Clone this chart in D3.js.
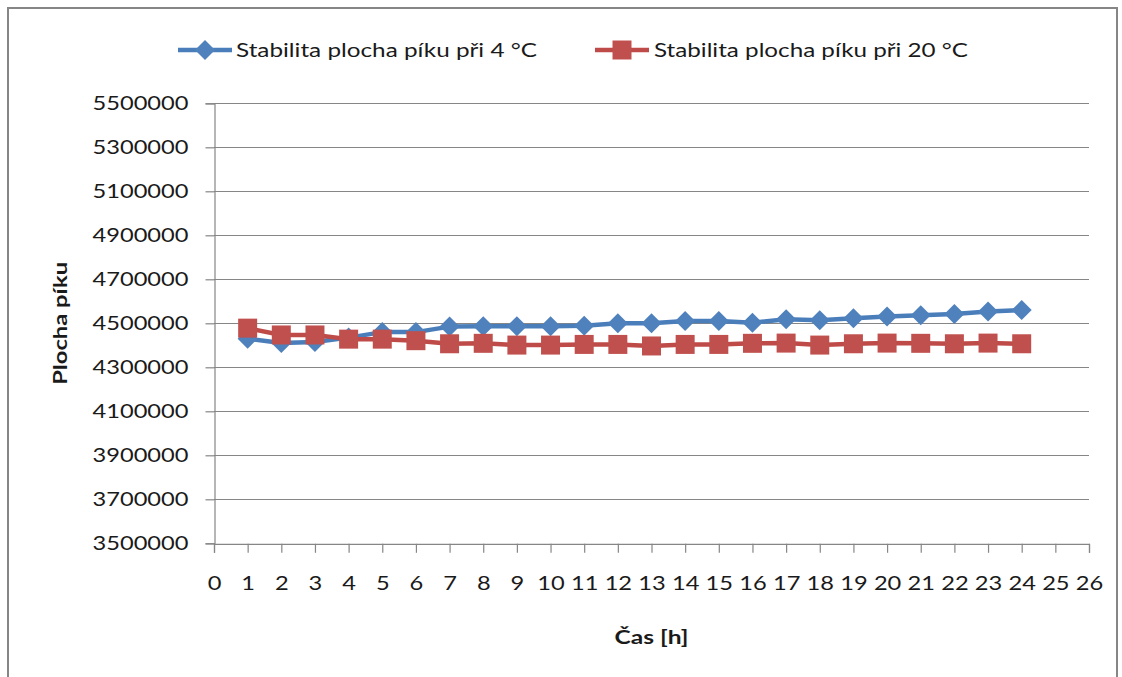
<!DOCTYPE html>
<html>
<head>
<meta charset="utf-8">
<script src="https://cdn.jsdelivr.net/npm/d3@7"></script>
<style>
  html, body { margin: 0; padding: 0; background: #fff; }
  svg { display: block; }
  text { font-family: Lato, "Open Sans", sans-serif; fill: #1a1a1a; }
</style>
</head>
<body>
<svg id="chart" width="1122" height="677"></svg>
<script>
// Sample time points (hours)
const hours = [1,2,3,4,5,6,7,8,9,10,11,12,13,14,15,16,17,18,19,20,21,22,23,24];
// Peak area, stored at 4 °C
const area4 = [4430000, 4410000, 4415000, 4435000, 4460000, 4460000, 4485000, 4487000,
               4487000, 4487000, 4489000, 4500000, 4500000, 4510000, 4510000, 4503000,
               4518000, 4514000, 4523000, 4531000, 4537000, 4542000, 4554000, 4560000];
// Peak area, stored at 20 °C
const area20 = [4478000, 4447000, 4447000, 4428000, 4428000, 4421000, 4407000, 4409000,
                4401000, 4401000, 4404000, 4404000, 4397000, 4404000, 4404000, 4409000,
                4410000, 4401000, 4407000, 4410000, 4409000, 4407000, 4410000, 4407000];
const seriesNames = ["Stabilita plocha píku při 4 °C", "Stabilita plocha píku při 20 °C"];
const xTicks = d3.range(0, 27);
const yTicks = d3.range(3500000, 5500001, 200000);
const xTitle = "Čas [h]";
const yTitle = "Plocha píku";

const svg = d3.select("#chart");
const fontSize = 18.5;

// outer chart frame
svg.append("rect")
  .attr("x", 8).attr("y", 8).attr("width", 1109).attr("height", 690)
  .attr("fill", "#fff").attr("stroke", "#868686").attr("stroke-width", 2);

const plot = { left: 214, right: 1089, top: 103.3, bottom: 543.3 };

const x = d3.scaleLinear().domain([0, 26]).range([plot.left, plot.right]);
const y = d3.scaleLinear().domain([3500000, 5500000]).range([plot.bottom, plot.top]);

// horizontal gridlines
svg.append("g")
  .selectAll("line")
  .data(yTicks.filter(v => v > 3500000))
  .join("line")
  .attr("x1", plot.left).attr("x2", plot.right)
  .attr("y1", d => Math.round(y(d)) + 0.5).attr("y2", d => Math.round(y(d)) + 0.5)
  .attr("stroke", "#868686").attr("stroke-width", 1.2);

// horizontal stretch applied to tick labels
const probe = svg.append("text").attr("font-size", fontSize).text("5500000");
const stretch = 96 / probe.node().getComputedTextLength();
probe.remove();

function stretchText(sel) {
  sel.each(function () {
    const n = this;
    const w = n.getComputedTextLength();
    d3.select(n).attr("textLength", w * stretch).attr("lengthAdjust", "spacingAndGlyphs");
  });
}

// y axis
const yAxis = svg.append("g")
  .attr("transform", `translate(${plot.left + 0.5},0)`)
  .call(d3.axisLeft(y).tickValues(yTicks).tickFormat(d3.format("d")).tickSize(9).tickPadding(17));
yAxis.select(".domain").attr("stroke", "#868686").attr("stroke-width", 1.2);
yAxis.selectAll(".tick line").attr("stroke", "#868686").attr("stroke-width", 1.2);
yAxis.selectAll(".tick text")
  .attr("font-size", fontSize).attr("font-family", "Lato, sans-serif").attr("fill", "#1a1a1a")
  .call(stretchText);

// x axis
const xAxis = svg.append("g")
  .attr("transform", `translate(0,${plot.bottom + 0.5})`)
  .call(d3.axisBottom(x).tickValues(xTicks).tickFormat(d3.format("d")).tickSize(9).tickPadding(24));
xAxis.select(".domain").attr("stroke", "#868686").attr("stroke-width", 1.2);
xAxis.selectAll(".tick line").attr("stroke", "#868686").attr("stroke-width", 1.2);
xAxis.selectAll(".tick text")
  .attr("font-size", fontSize).attr("font-family", "Lato, sans-serif").attr("fill", "#1a1a1a")
  .call(stretchText);

// axis titles
svg.append("text")
  .attr("transform", `translate(67,${(plot.top + plot.bottom) / 2}) rotate(-90)`)
  .attr("text-anchor", "middle")
  .attr("font-size", 19).attr("font-weight", "bold")
  .attr("textLength", 123).attr("lengthAdjust", "spacingAndGlyphs")
  .text(yTitle);

svg.append("text")
  .attr("x", (plot.left + plot.right) / 2).attr("y", 644)
  .attr("text-anchor", "middle")
  .attr("font-size", 19).attr("font-weight", "bold")
  .attr("textLength", 74).attr("lengthAdjust", "spacingAndGlyphs")
  .text(xTitle);

// series
const series = [
  { name: seriesNames[0], values: area4, line: "#4A7EBB", fill: "#4F81BD", shape: "diamond" },
  { name: seriesNames[1], values: area20, line: "#BE4B48", fill: "#C0504D", shape: "square" }
];

const diamondPath = "M0,-10L10,0L0,10L-10,0Z";
const squarePath = "M-9.5,-9.5H9.5V9.5H-9.5Z";

const line = d3.line().x(d => x(d[0])).y(d => y(d[1]));

series.forEach(s => {
  const pts = hours.map((h, i) => [h, s.values[i]]);
  const g = svg.append("g");
  g.append("path")
    .datum(pts)
    .attr("d", line)
    .attr("fill", "none")
    .attr("stroke", s.line)
    .attr("stroke-width", 4.5)
    .attr("stroke-linejoin", "round");
  g.selectAll("path.marker")
    .data(pts)
    .join("path")
    .attr("class", "marker")
    .attr("transform", d => `translate(${x(d[0])},${y(d[1])})`)
    .attr("d", s.shape === "diamond" ? diamondPath : squarePath)
    .attr("fill", s.fill);
});

// legend
const legendItems = [
  { s: series[0], x0: 178, tx: 236, w: 301 },
  { s: series[1], x0: 595, tx: 654, w: 314 }
];
const ly = 50;
legendItems.forEach(item => {
  const g = svg.append("g");
  g.append("line")
    .attr("x1", item.x0).attr("x2", item.x0 + 54)
    .attr("y1", ly).attr("y2", ly)
    .attr("stroke", item.s.line).attr("stroke-width", 4.5);
  g.append("path")
    .attr("transform", `translate(${item.x0 + 27},${ly})`)
    .attr("d", item.s.shape === "diamond" ? diamondPath : squarePath)
    .attr("fill", item.s.fill);
  g.append("text")
    .attr("x", item.tx).attr("y", ly + 7)
    .attr("font-size", fontSize + 1)
    .attr("textLength", item.w).attr("lengthAdjust", "spacingAndGlyphs")
    .text(item.s.name);
});
</script>
</body>
</html>
